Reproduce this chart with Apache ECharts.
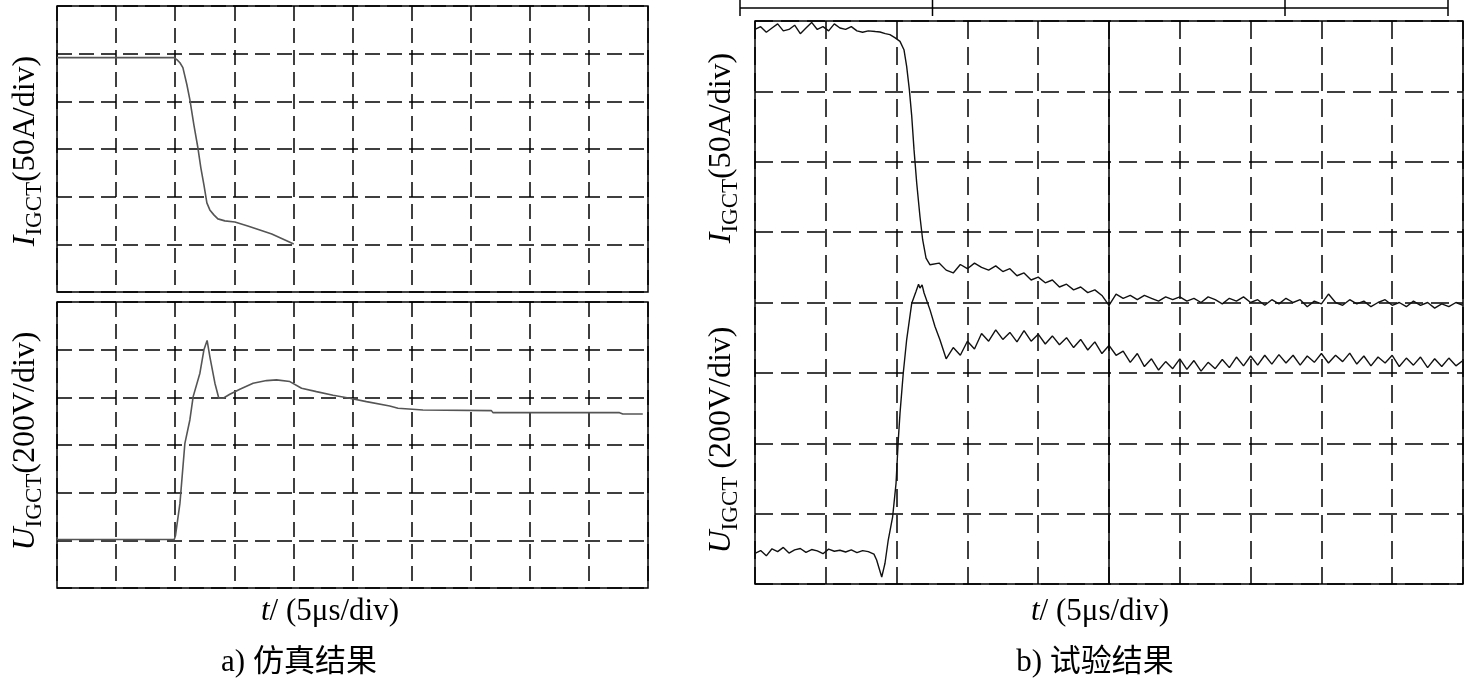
<!DOCTYPE html>
<html><head><meta charset="utf-8">
<script src="https://cdn.jsdelivr.net/npm/echarts@6/dist/echarts.min.js"></script>
<style>html,body{margin:0;padding:0;background:#fff}#c{width:1464px;height:682px}</style>
</head><body><div id="c"></div>
<script>
// ---- data (time in µs, current in A, voltage in V) ----
const simCurrent = [[0,245.8],[9.89,245.8],[10.14,243.7],[10.40,240.5],[10.65,235.3],[10.99,217.4],[11.24,201.7],[11.58,175.4],[11.92,151.3],[12.17,130.3],[12.43,112.4],[12.68,93.5],[12.93,86.1],[13.27,80.9],[13.61,76.7],[14.20,74.6],[15.05,73.5],[16.14,69.3],[17.16,65.1],[18.17,60.9],[19.10,55.7],[20.03,50.4]];

const simVoltage = [[0,203.5],[9.92,203.5],[10.03,221.6],[10.40,354.8],[10.82,607.1],[11.24,705.0],[11.52,803.0],[12.09,901.4],[12.43,999.4],[12.70,1038.5],[12.93,971.2],[13.36,859.3],[13.69,796.3],[14.06,796.3],[14.62,813.1],[15.47,834.1],[16.59,859.3],[17.73,870.3],[18.57,873.2],[19.70,866.1],[20.69,838.3],[21.95,824.0],[23.36,808.9],[24.77,796.3],[26.18,782.0],[28.15,763.9],[28.85,754.2],[30.96,747.1],[36.75,744.2],[36.88,735.8],[47.59,735.8],[47.87,730.3],[49.56,730.3]];

const expCurrent = [[0,394],[0.4,396],[0.8,392],[1.2,395],[1.6,398],[2.0,393],[2.4,394],[2.8,397],[3.2,391],[3.6,395],[4.0,399],[4.4,394],[4.8,396],[5.2,393],[5.6,398],[6.0,395],[6.4,394],[6.8,396],[7.2,393],[7.6,392],[8.0,393],
[8.5,392.5],[8.83,392.2],[9.2,391],[9.53,390.3],[9.9,388],[10.24,385.5],[10.52,379.6],[10.71,367.8],[10.9,351.2],[11.07,332.2],[11.23,308.6],[11.42,284.9],[11.65,261.1],[11.84,244.6],[12.08,231.6],[12.36,226.8],
[13.0,228],[13.5,223],[14.0,221],[14.5,227],[15.0,224],[15.5,228],[16.0,225],[16.5,223],[17.0,226],[17.5,222],[18.0,224],[18.5,219],[19.0,221],[19.5,216],[20.0,218],[20.5,214],[21.0,216],[21.5,211],[22.0,213],[22.5,209],[23.0,211],[23.5,207],[24.0,209],[24.5,205],[25.0,198],[25.5,206],[26.0,203],[26.5,205],[27.0,202],[27.5,205],[28.0,203],[28.5,201],[29.0,204],[29.5,202],[30.0,204],[30.5,201],[31.0,203],[31.5,200],[32.0,204],[32.5,202],[33.0,199],[33.5,203],[34.0,201],[34.5,204],[35.0,200],[35.5,202],[36.0,198],[36.5,202],[37.0,199],[37.5,203],[38.0,200],[38.5,202],[39.0,197],[39.5,201],[40.0,199],[40.5,206],[41.0,200],[41.5,198],[42.0,202],[42.5,199],[43.0,201],[43.5,197],[44.0,200],[44.5,202],[45.0,198],[45.5,200],[46.0,197],[46.5,201],[47.0,198],[47.5,200],[48.0,196],[48.5,199],[49.0,197],[49.5,200],[50.0,198]];

const expVoltage = [[0,87],[0.4,95],[0.8,80],[1.2,100],[1.6,92],[2.0,104],[2.4,88],[2.8,97],[3.2,101],[3.6,90],[4.0,98],[4.4,94],[4.8,86],[5.2,99],[5.6,93],[6.0,96],[6.4,91],[6.8,97],[7.2,89],[7.6,95],[8.0,92],
[8.4,85],[8.59,68],[8.8,40],[8.95,20],[9.1,45],[9.18,59],[9.41,125],[9.72,191],[9.96,286],[10.12,410],[10.24,485],[10.47,599],[10.71,694],[11.07,798],[11.37,831],[11.55,852],[11.65,841],[11.8,850],[11.94,827],[12.36,779],[12.71,732],[13.06,694],
[13.5,640],[14.0,672],[14.5,650],[15.0,690],[15.5,668],[16.0,712],[16.5,690],[17.0,722],[17.5,695],[18.0,715],[18.5,688],[19.0,720],[19.5,690],[20.0,710],[20.5,682],[21.0,705],[21.5,680],[22.0,700],[22.5,672],[23.0,695],[23.5,665],[24.0,688],[24.5,655],[25.0,678],[25.5,650],[26.0,662],[26.5,630],[27.0,655],[27.5,618],[28.0,640],[28.5,608],[29.0,632],[29.5,612],[30.0,640],[30.5,610],[31.0,635],[31.5,605],[32.0,630],[32.5,612],[33.0,638],[33.5,615],[34.0,645],[34.5,620],[35.0,648],[35.5,622],[36.0,650],[36.5,625],[37.0,652],[37.5,628],[38.0,650],[38.5,622],[39.0,648],[39.5,630],[40.0,655],[40.5,628],[41.0,650],[41.5,632],[42.0,656],[42.5,625],[43.0,648],[43.5,620],[44.0,645],[44.5,628],[45.0,650],[45.5,618],[46.0,642],[46.5,622],[47.0,645],[47.5,615],[48.0,640],[48.5,618],[49.0,642],[49.5,620],[50.0,635]];

const timeRange = [0, 50, 5];          // 5 µs/div, 10 div
const currentRangeSim = [0, 300, 50];  // 50 A/div
const voltageRangeSim = [0, 1200, 200];// 200 V/div
const currentRangeExp = [0, 400, 50];
const voltageRangeExp = [0, 1600, 200];
const centerTime = 25;

const labels = {
  iLabel: '{i|I}{s|IGCT}{n|(50A/div)}',
  uLabel: '{i|U}{s|IGCT}{n|(200V/div)}',
  uLabelExp: '{i|U}{s|IGCT}{n| (200V/div)}',
  tLabel: '{i|t}{n|/ (5μs/div)}',
  capA: 'a) 仿真结果',
  capB: 'b) 试验结果'
};

// ---- chart ----
const SERIF = "'Liberation Serif','Times New Roman',serif";
const CAPFONT = "'Liberation Serif','Noto Sans CJK SC',serif";
const chart = echarts.init(document.getElementById('c'));

function xAx(grid, dash) {
  return {type:'value', gridIndex:grid, min:timeRange[0], max:timeRange[1], interval:timeRange[2],
    axisLine:{show:false}, axisTick:{show:false}, axisLabel:{show:false},
    splitLine:{show:true, lineStyle:{color:'#000', width:1.5, type:dash}}};
}
function yAx(grid, r, dash, show) {
  return {type:'value', gridIndex:grid, min:r[0], max:r[1], interval:r[2],
    axisLine:{show:false}, axisTick:{show:false}, axisLabel:{show:false},
    splitLine:{show:show, lineStyle:{color:'#000', width:1.5, type:dash}}};
}
const richLbl = {
  i:{fontFamily:SERIF, fontSize:32, fontStyle:'italic', lineHeight:40, fill:'#000'},
  s:{fontFamily:SERIF, fontSize:23, lineHeight:40, verticalAlign:'bottom', fill:'#000'},
  n:{fontFamily:SERIF, fontSize:32, lineHeight:40, fill:'#000'}
};
function vtext(x, y, txt) {
  return {type:'text', x:x, y:y, rotation:Math.PI/2, silent:true,
    style:{text:txt, rich:richLbl, align:'center', verticalAlign:'middle', fill:'#000'}};
}
function htext(x, y, txt, rich, font) {
  const st = {text:txt, align:'center', verticalAlign:'middle', fill:'#000'};
  if (rich) st.rich = rich; else st.font = font;
  return {type:'text', x:x, y:y, silent:true, style:st};
}
const tRich = {
  i:{fontFamily:SERIF, fontSize:31, fontStyle:'italic', fill:'#000'},
  n:{fontFamily:SERIF, fontSize:31, fill:'#000'}
};
const dashL = [15, 7], dashR = [18, 8];

chart.setOption({
  animation:false,
  backgroundColor:'#fff',
  grid:[
    {left:57, top:6, width:591, height:286, show:true, borderColor:'#000', borderWidth:1.5},
    {left:57, top:302, width:591, height:286, show:true, borderColor:'#000', borderWidth:1.5},
    {left:755, top:21, width:708, height:563, show:true, borderColor:'#000', borderWidth:1.5}
  ],
  xAxis:[xAx(0,dashL), xAx(1,dashL), xAx(2,dashR)],
  yAxis:[yAx(0,currentRangeSim,dashL,true), yAx(1,voltageRangeSim,dashL,true),
         yAx(2,currentRangeExp,dashR,true), yAx(2,voltageRangeExp,dashR,false)],
  series:[
    {type:'line', xAxisIndex:0, yAxisIndex:0, data:simCurrent, showSymbol:false, lineStyle:{color:'#555', width:1.6}},
    {type:'line', xAxisIndex:1, yAxisIndex:1, data:simVoltage, showSymbol:false, lineStyle:{color:'#555', width:1.6}},
    {type:'line', xAxisIndex:2, yAxisIndex:2, data:expCurrent, showSymbol:false, lineStyle:{color:'#111', width:1.4},
      markLine:{silent:true, symbol:['none','none'], label:{show:false}, lineStyle:{color:'#000', type:'solid', width:1.5},
        data:[{xAxis:centerTime}]}},
    {type:'line', xAxisIndex:2, yAxisIndex:3, data:expVoltage, showSymbol:false, lineStyle:{color:'#111', width:1.4}}
  ],
  graphic:[
    vtext(26, 151, labels.iLabel),
    vtext(26, 441, labels.uLabel),
    vtext(722, 148, labels.iLabel),
    vtext(722, 440, labels.uLabelExp),
    htext(330, 612, labels.tLabel, tRich),
    htext(1100, 612, labels.tLabel, tRich),
    htext(299, 663, labels.capA, null, '31px ' + CAPFONT),
    htext(1095, 663, labels.capB, null, '31px ' + CAPFONT),
    {type:'polyline', silent:true, shape:{points:[[740,8],[1448,8]]}, style:{stroke:'#000', lineWidth:1.5, fill:null}},
    {type:'line', silent:true, shape:{x1:740,y1:0,x2:740,y2:16}, style:{stroke:'#000', lineWidth:1.5}},
    {type:'line', silent:true, shape:{x1:932.5,y1:0,x2:932.5,y2:16}, style:{stroke:'#000', lineWidth:1.5}},
    {type:'line', silent:true, shape:{x1:1285,y1:0,x2:1285,y2:16}, style:{stroke:'#000', lineWidth:1.5}},
    {type:'line', silent:true, shape:{x1:1448,y1:0,x2:1448,y2:16}, style:{stroke:'#000', lineWidth:1.5}}
  ]
});
</script></body></html>
